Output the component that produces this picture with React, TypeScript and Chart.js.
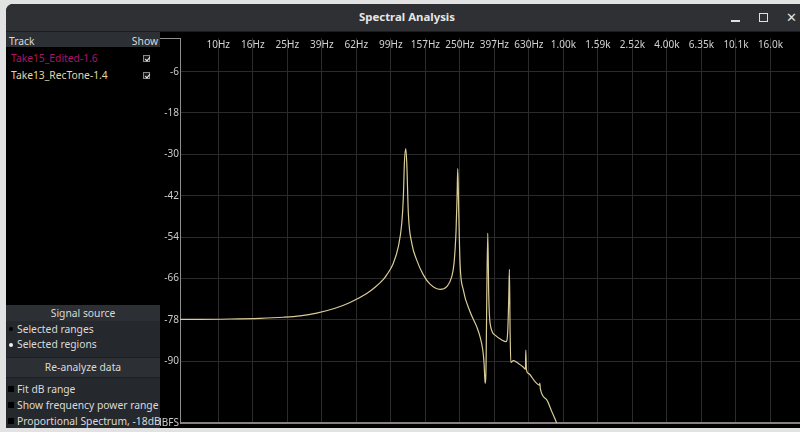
import React, { useEffect, useRef } from "react";
import { Chart, registerables } from "chart.js";

Chart.register(...registerables);

// ---- data ----
const TRACKS = ["Take15_Edited-1.6", "Take13_RecTone-1.4"];

const FREQ_HZ = [
  6.0, 7.83, 11.7, 17.45, 23.8, 29.8, 37.2, 47.5, 58.0, 72.5, 81.0, 90.5, 94.7,
  103.4, 110.5, 115.7, 118.2, 119.8, 122.0, 123.7, 126.3, 132.2, 141.3, 154.3,
  168.7, 192.8, 210.9, 225.4, 232.4, 238.8, 242.0, 244.2, 247.5, 251.8, 263.2,
  287.8, 314.8, 328.9, 341.0, 347.0, 351.7, 356.4, 359.7, 364.5, 369.4, 376.0,
  401.9, 439.4, 465.3, 476.1, 482.5, 486.4, 491.0, 495.6, 513.1, 548.5, 586.4,
  602.3, 605.5, 610.4, 626.9, 685.3, 726.0, 729.9, 735.8, 801.2, 856.7, 915.6,
  960,
];

const LEVEL_DB = [
  -77.9, -77.9, -77.8, -77.6, -77.3, -76.9, -76.1, -74.7, -73.0, -70.4, -68.6,
  -66.3, -65.0, -61.6, -56.8, -50.0, -42.3, -32.6, -28.3, -32.6, -47.1, -55.8,
  -60.7, -65.0, -67.7, -69.2, -68.4, -65.5, -61.6, -52.0, -42.3, -34.1, -47.1,
  -61.6, -69.4, -75.7, -80.1, -83.0, -86.8, -90.7, -96.5, -90.7, -71.3, -52.9,
  -71.3, -79.1, -82.5, -83.9, -84.4, -81.0, -71.3, -63.4, -81.0, -90.4, -89.9,
  -90.7, -91.8, -92.4, -86.8, -92.6, -93.6, -96.0, -97.0, -96.4, -98.2, -101.3,
  -104.7, -108.1, -111.0,
];

const X_TICK_VALUES = [
  10, 15.85, 25.12, 39.81, 63.1, 100, 158.5, 251.2, 398.1, 631, 1000, 1585,
  2512, 3981, 6310, 10000, 15849,
];
const X_TICK_LABELS = [
  "10Hz", "16Hz", "25Hz", "39Hz", "62Hz", "99Hz", "157Hz", "250Hz", "397Hz",
  "630Hz", "1.00k", "1.59k", "2.52k", "4.00k", "6.35k", "10.1k", "16.0k",
];
const Y_TICK_VALUES = [-108, -90, -78, -66, -54, -42, -30, -18, -6];
const Y_TICK_LABELS = ["dBFS", "-90", "-78", "-66", "-54", "-42", "-30", "-18", "-6"];

const X_MIN = 6;
const X_MAX = 23500;
const Y_MIN = -108;
const Y_MAX = 0;

const FONT = '"Noto Sans", sans-serif';

function CheckBox({ left, top }: { left: number; top: number }) {
  return (
    <div
      style={{
        position: "absolute",
        left,
        top,
        width: 7,
        height: 7,
        border: "1px solid #8a8a8a",
        background: "#1a1a1a",
        boxSizing: "border-box",
      }}
    >
      <div
        style={{
          position: "absolute",
          left: 1.5,
          top: -0.5,
          width: 2,
          height: 4,
          borderRight: "1.2px solid #f2f2f2",
          borderBottom: "1.2px solid #f2f2f2",
          transform: "rotate(40deg)",
        }}
      />
    </div>
  );
}

const abs = (s: React.CSSProperties): React.CSSProperties => ({
  position: "absolute",
  whiteSpace: "nowrap",
  ...s,
});

export default function App() {
  const ref = useRef<HTMLCanvasElement>(null);

  useEffect(() => {
    document.body.style.margin = "0";
    const canvas = ref.current;
    if (!canvas) return;
    const chart = new Chart(canvas, {
      type: "line",
      data: {
        datasets: [
          {
            label: TRACKS[1],
            data: FREQ_HZ.map((f, i) => ({ x: f, y: LEVEL_DB[i] })),
            borderColor: "#d9cc97",
            borderWidth: 1.2,
            pointRadius: 0,
            fill: false,
            cubicInterpolationMode: "monotone",
          },
        ],
      },
      options: {
        animation: false,
        responsive: false,
        maintainAspectRatio: false,
        events: [],
        layout: { padding: { top: 6, bottom: 9, left: 0, right: 0 } },
        plugins: {
          legend: { display: false },
          tooltip: { enabled: false },
          title: { display: false },
        },
        scales: {
          x: {
            type: "logarithmic",
            position: "top",
            min: X_MIN,
            max: X_MAX,
            afterBuildTicks: (scale: any) => {
              scale.ticks = X_TICK_VALUES.map((v) => ({ value: v }));
            },
            afterFit: (scale: any) => {
              scale.height = 13;
            },
            border: { display: false },
            grid: {
              color: "#2b2b2b",
              lineWidth: 1,
              drawTicks: true,
              tickLength: 13,
              tickColor: "#2b2b2b",
            },
            ticks: {
              autoSkip: false,
              maxRotation: 0,
              minRotation: 0,
              padding: -13,
              color: "#d2d2d2",
              font: { family: FONT, size: 10 },
              callback: (_v: any, i: number) => X_TICK_LABELS[i],
            },
          },
          y: {
            type: "linear",
            position: "left",
            min: Y_MIN,
            max: Y_MAX,
            afterBuildTicks: (scale: any) => {
              scale.ticks = Y_TICK_VALUES.map((v) => ({ value: v }));
            },
            afterFit: (scale: any) => {
              scale.width = 20;
            },
            border: { display: true, color: "#8e8e8e", width: 1 },
            grid: {
              drawTicks: false,
              color: (ctx: any) =>
                ctx.tick && ctx.tick.value === Y_MIN ? "#8a7e84" : "#2b2b2b",
              lineWidth: (ctx: any) =>
                ctx.tick && ctx.tick.value === Y_MIN ? 2 : 1,
            },
            ticks: {
              padding: 1,
              color: "#cacaca",
              font: { family: FONT, size: 10 },
              callback: (_v: any, i: number) => Y_TICK_LABELS[i],
            },
          },
        },
      },
    } as any);
    return () => chart.destroy();
  }, []);

  const panelText: React.CSSProperties = {
    fontFamily: FONT,
    fontSize: 10.3,
    color: "#dadada",
    lineHeight: "14px",
  };

  return (
    <div
      style={{
        position: "fixed",
        left: 0,
        top: 0,
        width: 800,
        height: 432,
        overflow: "hidden",
        background: "#e2e2e2",
        fontFamily: FONT,
      }}
    >
      {/* window body */}
      <div
        style={abs({
          left: 6,
          top: 4,
          width: 810,
          height: 424,
          background: "#000",
          borderTopLeftRadius: 7,
        })}
      />
      {/* title bar */}
      <div
        style={abs({
          left: 6,
          top: 4,
          width: 810,
          height: 27,
          background: "#2e3033",
          borderTopLeftRadius: 7,
          borderBottom: "1px solid #1b1d1f",
        })}
      />
      <div
        style={abs({
          left: 6,
          top: 9,
          width: 802,
          textAlign: "center",
          fontSize: 11.4,
          fontWeight: 700,
          color: "#e6e6e6",
          lineHeight: "16px",
        })}
      >
        Spectral Analysis
      </div>
      <div style={abs({ left: 731, top: 20, width: 9, height: 1.5, background: "#e0e0e0" })} />
      <div
        style={abs({
          left: 759,
          top: 13,
          width: 9,
          height: 9,
          border: "1.3px solid #e0e0e0",
          boxSizing: "border-box",
        })}
      />
      <div
        style={abs({
          left: 786,
          top: 9,
          fontSize: 13,
          color: "#e0e0e0",
          lineHeight: "16px",
        })}
      >
        ✕
      </div>

      {/* track table header */}
      <div style={abs({ left: 6, top: 32, width: 154, height: 15, background: "#2c2f33" })} />
      <div style={abs({ ...panelText, left: 9, top: 34 })}>Track</div>
      <div style={abs({ ...panelText, left: 130, top: 34, width: 28, textAlign: "right" })}>Show</div>

      {/* track rows */}
      <div style={abs({ ...panelText, left: 11, top: 51, color: "#a8166f" })}>{TRACKS[0]}</div>
      <CheckBox left={143} top={55} />
      <div style={abs({ ...panelText, left: 11, top: 68, color: "#e4d6a6" })}>{TRACKS[1]}</div>
      <CheckBox left={143} top={72} />

      {/* axis bracket top */}
      <div
        style={abs({
          left: 160,
          top: 38,
          width: 20.5,
          height: 14,
          borderTop: "1px solid #8e8e8e",
          borderRight: "1px solid #8e8e8e",
          boxSizing: "border-box",
        })}
      />

      {/* chart canvas */}
      <canvas
        ref={ref}
        width={640}
        height={400}
        style={{ position: "absolute", left: 160, top: 32, width: 640, height: 400 }}
      />

      {/* bottom control panel */}
      <div
        style={abs({
          left: 6,
          top: 305,
          width: 154,
          height: 123,
          background: "#25282c",
          overflow: "hidden",
        })}
      >
        <div style={abs({ left: 0, top: 0, width: 154, height: 16, background: "#2c2f33" })} />
        <div style={abs({ ...panelText, left: 0, top: 1, width: 154, textAlign: "center" })}>
          Signal source
        </div>
        <div style={abs({ left: 3, top: 22, width: 4, height: 4, borderRadius: 2, background: "#000" })} />
        <div style={abs({ ...panelText, left: 11, top: 17 })}>Selected ranges</div>
        <div style={abs({ left: 3, top: 38, width: 4, height: 4, borderRadius: 2, background: "#f0f0f0" })} />
        <div style={abs({ ...panelText, left: 11, top: 32 })}>Selected regions</div>

        <div style={abs({ left: 0, top: 52, width: 154, height: 1, background: "#1c1e21" })} />
        <div style={abs({ left: 0, top: 53, width: 154, height: 19, background: "#2c2f33" })} />
        <div style={abs({ ...panelText, left: 0, top: 55, width: 154, textAlign: "center" })}>
          Re-analyze data
        </div>
        <div style={abs({ left: 0, top: 72, width: 154, height: 1, background: "#1c1e21" })} />

        <div style={abs({ left: 2, top: 81, width: 6, height: 6, background: "#000" })} />
        <div style={abs({ ...panelText, left: 11, top: 77 })}>Fit dB range</div>
        <div style={abs({ left: 2, top: 97, width: 6, height: 6, background: "#000" })} />
        <div style={abs({ ...panelText, left: 11, top: 93 })}>Show frequency power range</div>
        <div style={abs({ left: 2, top: 113, width: 6, height: 6, background: "#000" })} />
        <div style={abs({ ...panelText, left: 11, top: 109 })}>Proportional Spectrum, -18dB</div>
      </div>
    </div>
  );
}
